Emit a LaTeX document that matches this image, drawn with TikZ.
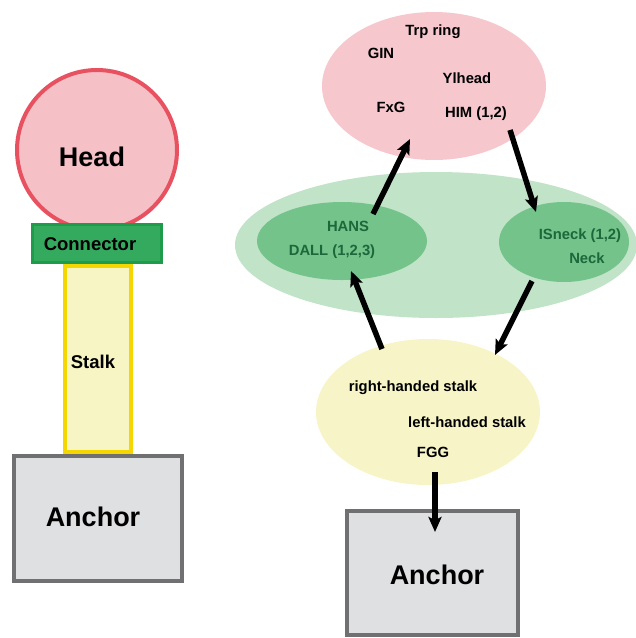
\documentclass[tikz,border=0pt]{standalone}
\usepackage{fontspec}
\setmainfont{Liberation Sans}
\usetikzlibrary{shapes.geometric,arrows.meta}
\definecolor{headfill}{RGB}{245,193,199}
\definecolor{headline}{RGB}{232,82,96}
\definecolor{confill}{RGB}{52,170,95}
\definecolor{conline}{RGB}{30,155,75}
\definecolor{stalkfill}{RGB}{247,245,196}
\definecolor{stalkline}{RGB}{246,214,0}
\definecolor{ancfill}{RGB}{223,224,226}
\definecolor{ancline}{RGB}{112,112,114}
\definecolor{pinkfill}{RGB}{246,199,205}
\definecolor{biggreen}{RGB}{193,227,199}
\definecolor{innergreen}{RGB}{116,195,139}
\definecolor{greentext}{RGB}{28,104,58}
\definecolor{yellowfill}{RGB}{247,245,200}
\tikzset{
  lbl/.style={font=\bfseries\fontsize{14.8}{16}\selectfont, inner sep=0pt},
  glbl/.style={lbl, text=greentext},
  big/.style={font=\bfseries\fontsize{27}{30}\selectfont, inner sep=0pt},
  mid/.style={font=\bfseries\fontsize{18.5}{20}\selectfont, inner sep=0pt},
  blob/.style={ellipse, draw=none, inner sep=0pt},
  flow/.style={line width=5.5pt, -{Stealth[length=15pt,width=13pt,inset=3pt]}},
}
\begin{document}
\begin{tikzpicture}[x=1pt,y=-1pt]
\useasboundingbox (0,0) rectangle (636,638);
% ---- left: schematic ----
\node[circle, draw=headline, line width=4pt, fill=headfill, minimum size=160pt, inner sep=0pt] (head) at (97,150) {};
\node[big] at (92,157) {Head};
\node[draw=stalkline, fill=stalkfill, line width=4pt, minimum width=66pt, minimum height=186pt, inner sep=0pt] (stalk) at (98,358.5) {};
\node[mid] at (93,362) {Stalk};
\node[draw=conline, fill=confill, line width=3pt, minimum width=129pt, minimum height=38pt, inner sep=0pt] (conn) at (97,243.5) {};
\node[mid] at (90,244) {Connector};
\node[draw=ancline, fill=ancfill, line width=4.5pt, minimum width=168pt, minimum height=125pt, inner sep=0pt] (anchorL) at (98,518.5) {};
\node[big] at (93,517) {Anchor};
% ---- right: network ----
\node[blob, fill=pinkfill, minimum width=224pt, minimum height=148pt] (headE) at (434,86) {};
\node[lbl] at (433,32) {Trp ring};
\node[lbl] at (381,53) {GIN};
\node[lbl] at (467,78) {Ylhead};
\node[lbl] at (391,107) {FxG};
\node[lbl] at (476,114) {HIM (1,2)};
\node[blob, fill=biggreen, minimum width=402pt, minimum height=146pt] (neckE) at (436,245) {};
\node[blob, fill=innergreen, minimum width=170pt, minimum height=78pt] (hans) at (342,241) {};
\node[glbl] at (348,226) {HANS};
\node[glbl] at (332,252) {DALL (1,2,3)};
\node[blob, fill=innergreen, minimum width=130pt, minimum height=80pt] (isneck) at (564,242) {};
\node[glbl] at (580,236) {ISneck (1,2)};
\node[glbl] at (587,258) {Neck};
\node[blob, fill=yellowfill, minimum width=224pt, minimum height=146pt] (stalkE) at (428,412) {};
\node[lbl] at (413,388) {right-handed stalk};
\node[lbl] at (467,422) {left-handed stalk};
\node[lbl] at (433,452) {FGG};
\node[draw=ancline, fill=ancfill, line width=4.5pt, minimum width=171pt, minimum height=124pt, inner sep=0pt] (anchorR) at (432.5,573) {};
\node[big] at (437,575) {Anchor};
% arrow end points
\coordinate (a1s) at (373,214);
\coordinate (a1e) at (410,139);
\coordinate (a2s) at (510,130);
\coordinate (a2e) at (536,212);
\coordinate (a3s) at (382,349);
\coordinate (a3e) at (351,271);
\coordinate (a4s) at (532,281);
\coordinate (a4e) at (495,355);
\coordinate (a5s) at (435,472);
\coordinate (a5e) at (435,532);
\draw[flow] (a1s) -- (a1e);
\draw[flow] (a2s) -- (a2e);
\draw[flow] (a3s) -- (a3e);
\draw[flow] (a4s) -- (a4e);
\draw[flow] (a5s) -- (a5e);
\end{tikzpicture}
\end{document}
